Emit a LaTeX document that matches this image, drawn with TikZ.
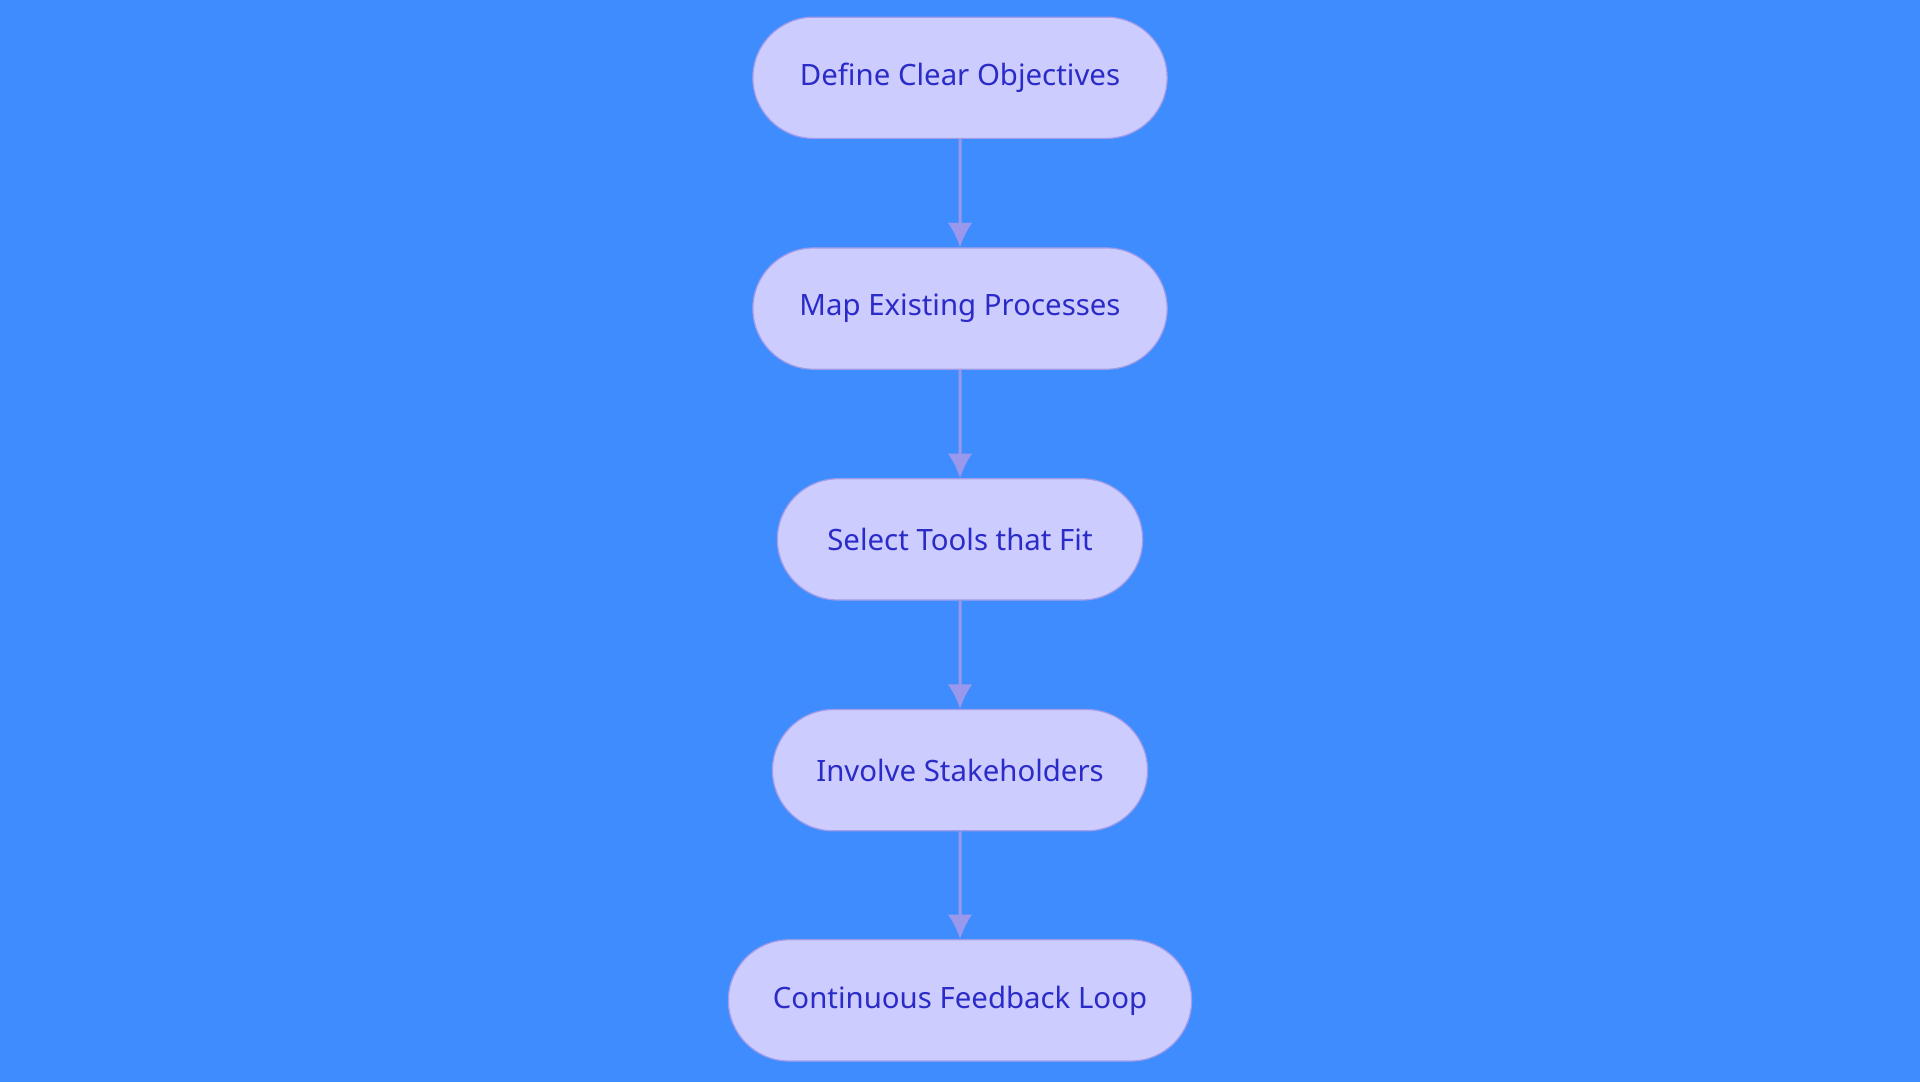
\documentclass[tikz,border=0pt]{standalone}
\usepackage{fontspec}
\setmainfont{Noto Sans}
\usetikzlibrary{shapes.misc,arrows.meta}
\definecolor{bgblue}{HTML}{3F8CFF}
\definecolor{boxfill}{HTML}{CCCCFF}
\definecolor{boxline}{HTML}{A09CE8}
\definecolor{boxtext}{HTML}{2B2BC8}
\definecolor{arrowcol}{HTML}{9A98EC}
\begin{document}
\begin{tikzpicture}[x=1pt,y=1pt,
    stage/.style={rounded rectangle,draw=boxline,line width=1pt,fill=boxfill,
        text=boxtext,minimum height=99pt,font=\fontsize{24}{28}\selectfont},
    flow/.style={draw=arrowcol,line width=2.5pt,
        arrows={-{Latex[length=20pt,width=20pt]}}}]
\fill[bgblue] (0,0) rectangle (1568,-884);
\node[stage,minimum width=345pt] (objectives) at (784,-63.5) {Define Clear Objectives};
\node[stage,minimum width=345pt] (processes) at (784,-252) {Map Existing Processes};
\node[stage,minimum width=305pt] (tools) at (784,-440.5) {Select Tools that Fit};
\node[stage,minimum width=313pt] (stakeholders) at (784,-629) {Involve Stakeholders};
\node[stage,minimum width=385pt] (feedback) at (784,-817) {Continuous Feedback Loop};
\draw[flow] (objectives) -- (processes);
\draw[flow] (processes) -- (tools);
\draw[flow] (tools) -- (stakeholders);
\draw[flow] (stakeholders) -- (feedback);
\end{tikzpicture}
\end{document}
